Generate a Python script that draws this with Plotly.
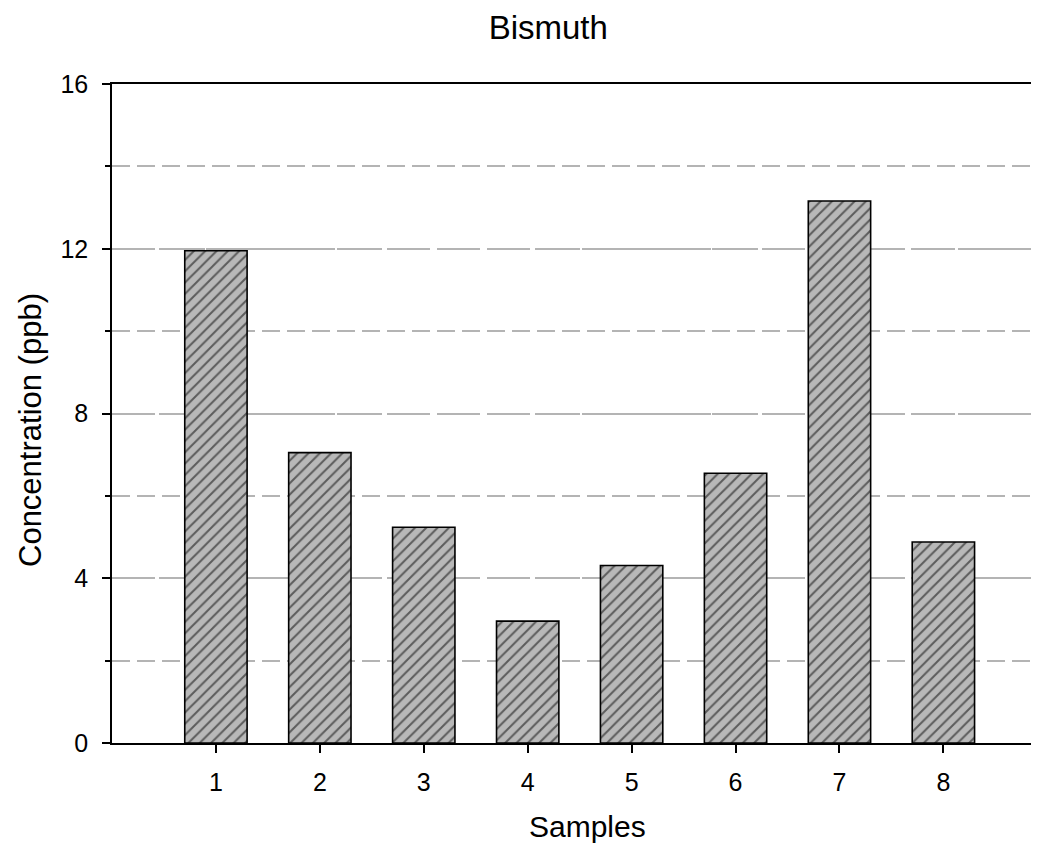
import plotly.graph_objects as go

samples = [1, 2, 3, 4, 5, 6, 7, 8]
concentration = [11.95, 7.05, 5.24, 2.96, 4.31, 6.55, 13.16, 4.88]
y_ticks = [0, 4, 8, 12, 16]

FONT = "Liberation Sans, Arial, sans-serif"

fig = go.Figure()
fig.add_trace(go.Bar(
    x=samples, y=concentration, width=0.6,
    marker=dict(
        color="#b8b8b8",
        line=dict(color="black", width=1.6),
        pattern=dict(shape="/", fgcolor="black", bgcolor="#b8b8b8", size=8, solidity=0.25),
    ),
    showlegend=False,
))
# invisible trace to carry the top frame axis
fig.add_trace(go.Scatter(x=[None], y=[None], xaxis="x2", showlegend=False, hoverinfo="skip"))

fig.update_layout(
    width=1031, height=836,
    margin=dict(l=104, r=0, t=76, b=101),
    paper_bgcolor="white", plot_bgcolor="white",
    font=dict(family=FONT, color="black"),
    title=dict(text="Bismuth", x=0.524, xanchor="center", xref="container",
               y=0.977, yanchor="middle", yref="container",
               font=dict(size=33, family=FONT, color="black")),
    xaxis=dict(
        range=[0, 8.92], tickmode="array", tickvals=samples,
        ticktext=[str(s) for s in samples],
        showline=True, linecolor="black", linewidth=1.5,
        ticks="outside", ticklen=8, tickwidth=1.5, tickcolor="black",
        showgrid=False, zeroline=False, ticklabelstandoff=8,
        tickfont=dict(size=25, family=FONT, color="black"),
    ),
    xaxis2=dict(
        overlaying="x", side="top", range=[0, 8.92], showline=True,
        linecolor="black", linewidth=1.5, showticklabels=False, ticks="",
        showgrid=False, zeroline=False,
    ),
    yaxis=dict(
        range=[0, 16], tickmode="array", tickvals=y_ticks,
        ticktext=[str(v) for v in y_ticks],
        showline=True, linecolor="black", linewidth=1.5,
        ticks="outside", ticklen=8, tickwidth=1.5, tickcolor="black",
        showgrid=True, gridcolor="#b4b4b4", gridwidth=1.5, griddash="35px,12px",
        zeroline=False, ticklabelstandoff=9,
        tickfont=dict(size=25, family=FONT, color="black"),
        minor=dict(dtick=2, tick0=0, ticks="outside", ticklen=5, tickwidth=1.5,
                   tickcolor="black", showgrid=True, gridcolor="#b4b4b4",
                   gridwidth=1.5, griddash="18px,7px"),
    ),
    bargap=0.4,
)

fig.add_annotation(text="Samples", xref="paper", yref="paper",
                   x=(587 - 112) / 927, y=-(826 - 743) / 659,
                   xanchor="center", yanchor="middle", showarrow=False,
                   font=dict(size=30, family=FONT, color="black"))
fig.add_annotation(text="Concentration (ppb)", xref="paper", yref="paper",
                   x=-(112 - 30) / 927, y=(743 - 430) / 659,
                   xanchor="center", yanchor="middle", showarrow=False, textangle=-90,
                   font=dict(size=31, family=FONT, color="black"))

fig.write_html("out.html")
